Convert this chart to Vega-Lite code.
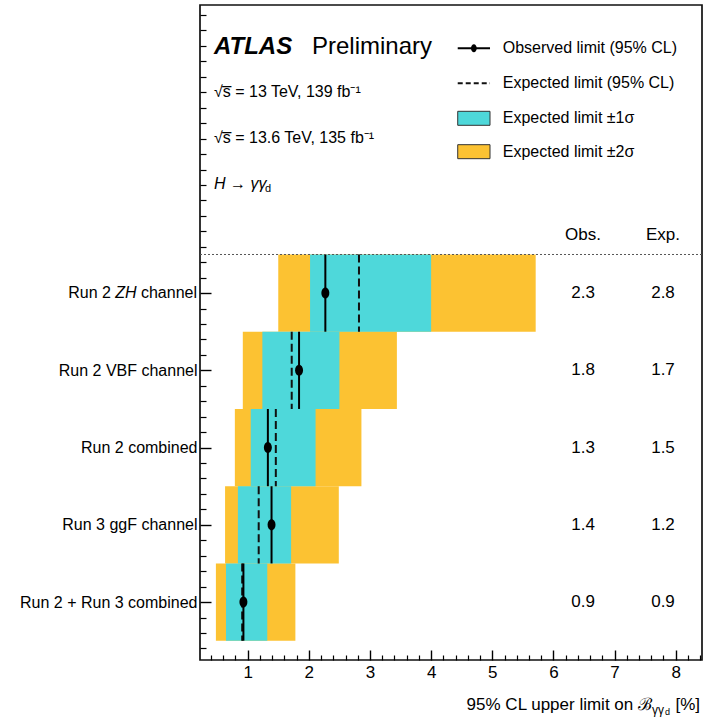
{
  "$schema": "https://vega.github.io/schema/vega-lite/v6.json",
  "width": 502,
  "height": 655,
  "autosize": "none",
  "padding": {"left": 200, "top": 5, "right": 3, "bottom": 68},
  "config": {
    "font": "Liberation Sans",
    "view": {"stroke": "#111", "strokeWidth": 1.7},
    "axis": {"domain": false, "grid": false, "labelColor": "#000", "tickColor": "#000", "labelFont": "Liberation Sans", "labelFontSize": 17, "labelLimit": 400},
    "text": {"font": "Liberation Sans", "fontSize": 16, "color": "#000"}
  },
  "resolve": {"axis": {"x": "independent", "y": "independent"}},
  "data": {"values": [
    {"channel": "Run 2 ZH channel", "pos": 5, "obs": 2.27, "exp": 2.82, "lo1": 2.02, "hi1": 4.00, "lo2": 1.50, "hi2": 5.71},
    {"channel": "Run 2 VBF channel", "pos": 4, "obs": 1.84, "exp": 1.72, "lo1": 1.24, "hi1": 2.50, "lo2": 0.92, "hi2": 3.44},
    {"channel": "Run 2 combined", "pos": 3, "obs": 1.33, "exp": 1.46, "lo1": 1.05, "hi1": 2.11, "lo2": 0.79, "hi2": 2.86},
    {"channel": "Run 3 ggF channel", "pos": 2, "obs": 1.39, "exp": 1.18, "lo1": 0.84, "hi1": 1.71, "lo2": 0.63, "hi2": 2.49},
    {"channel": "Run 2 + Run 3 combined", "pos": 1, "obs": 0.93, "exp": 0.91, "lo1": 0.645, "hi1": 1.32, "lo2": 0.48, "hi2": 1.78}
  ]},
  "layer": [
    {
      "mark": {"type": "rect", "color": "#FCC232", "yOffset": -38.6, "y2Offset": 38.6},
      "encoding": {
        "x": {"field": "lo2", "type": "quantitative", "scale": {"domain": [0.22, 8.43], "nice": false, "zero": false},
              "axis": {"orient": "bottom", "values": [1, 2, 3, 4, 5, 6, 7, 8], "tickSize": -10, "tickWidth": 1.4, "labelPadding": 14, "title": null}},
        "x2": {"field": "hi2"},
        "y": {"field": "pos", "type": "quantitative", "scale": {"domain": [0.25, 8.73], "nice": false, "zero": false},
              "axis": {"orient": "left", "values": [1, 2, 3, 4, 5], "tickSize": -11, "tickWidth": 1.4, "labelPadding": 14, "labelFontSize": 16, "title": null,
                       "labelExpr": "datum.value == 5 ? '' : datum.value == 4 ? 'Run 2 VBF channel' : datum.value == 3 ? 'Run 2 combined' : datum.value == 2 ? 'Run 3 ggF channel' : 'Run 2 + Run 3 combined'"}},
        "y2": {"field": "pos"}
      }
    },
    {
      "mark": {"type": "rect", "color": "#4ED8DA", "yOffset": -38.6, "y2Offset": 38.6},
      "encoding": {
        "x": {"field": "lo1", "type": "quantitative",
              "axis": {"orient": "bottom", "values": [0.4, 0.6, 0.8, 1.2, 1.4, 1.6, 1.8, 2.2, 2.4, 2.6, 2.8, 3.2, 3.4, 3.6, 3.8, 4.2, 4.4, 4.6, 4.8, 5.2, 5.4, 5.6, 5.8, 6.2, 6.4, 6.6, 6.8, 7.2, 7.4, 7.6, 7.8, 8.2, 8.4], "tickSize": -5, "tickWidth": 1.2, "labels": false, "title": null}},
        "x2": {"field": "hi1"},
        "y": {"field": "pos", "type": "quantitative",
              "axis": {"orient": "left", "values": [0.4, 0.6, 0.8, 1.2, 1.4, 1.6, 1.8, 2.2, 2.4, 2.6, 2.8, 3.2, 3.4, 3.6, 3.8, 4.2, 4.4, 4.6, 4.8, 5.2, 5.4, 5.6, 5.8, 6, 6.2, 6.4, 6.6, 6.8, 7, 7.2, 7.4, 7.6, 7.8, 8, 8.2, 8.4, 8.6], "tickSize": -6, "tickWidth": 1.2, "labels": false, "title": null}},
        "y2": {"field": "pos"}
      }
    },
    {
      "mark": {"type": "rule", "color": "#111", "strokeWidth": 2, "strokeDash": [8, 4], "yOffset": -38.6, "y2Offset": 38.6},
      "encoding": {
        "x": {"field": "exp", "type": "quantitative", "axis": null},
        "y": {"field": "pos", "type": "quantitative", "axis": null},
        "y2": {"field": "pos"}
      }
    },
    {
      "mark": {"type": "rule", "color": "#000", "strokeWidth": 2, "yOffset": -38.6, "y2Offset": 38.6},
      "encoding": {
        "x": {"field": "obs", "type": "quantitative", "axis": null},
        "y": {"field": "pos", "type": "quantitative", "axis": null},
        "y2": {"field": "pos"}
      }
    },
    {
      "mark": {"type": "point", "filled": true, "color": "#000", "opacity": 1, "size": 121, "shape": "M0,-1A0.72,1 0 1,1 0,1A0.72,1 0 1,1 0,-1Z"},
      "encoding": {
        "x": {"field": "obs", "type": "quantitative", "axis": null},
        "y": {"field": "pos", "type": "quantitative", "axis": null}
      }
    },
    {
      "mark": {"type": "text", "align": "center", "baseline": "middle", "fontSize": 17},
      "encoding": {
        "x": {"datum": 6.484, "axis": null},
        "y": {"field": "pos", "type": "quantitative", "axis": null},
        "text": {"field": "obs", "type": "quantitative", "format": ".1f"}
      }
    },
    {
      "mark": {"type": "text", "align": "center", "baseline": "middle", "fontSize": 17},
      "encoding": {
        "x": {"datum": 7.792, "axis": null},
        "y": {"field": "pos", "type": "quantitative", "axis": null},
        "text": {"field": "exp", "type": "quantitative", "format": ".1f"}
      }
    },
    {
      "data": {"values": [{}]},
      "mark": {"type": "text", "align": "right", "baseline": "middle", "text": "channel", "dx": -3},
      "encoding": {"x": {"datum": 0.22, "axis": null}, "y": {"datum": 5, "axis": null}}
    },
    {
      "data": {"values": [{}]},
      "mark": {"type": "text", "align": "right", "baseline": "middle", "text": "ZH", "fontStyle": "italic", "dx": -63.5},
      "encoding": {"x": {"datum": 0.22, "axis": null}, "y": {"datum": 5, "axis": null}}
    },
    {
      "data": {"values": [{}]},
      "mark": {"type": "text", "align": "right", "baseline": "middle", "text": "Run 2", "dx": -89},
      "encoding": {"x": {"datum": 0.22, "axis": null}, "y": {"datum": 5, "axis": null}}
    },
    {
      "data": {"values": [{}]},
      "mark": {"type": "rule", "color": "#555", "strokeWidth": 1, "strokeDash": [2, 2]},
      "encoding": {"y": {"datum": 5.5, "axis": null}}
    },
    {
      "data": {"values": [{}]},
      "mark": {"type": "text", "align": "center", "baseline": "middle", "text": "Obs.", "fontSize": 17},
      "encoding": {"x": {"datum": 6.484, "axis": null}, "y": {"datum": 5.752, "axis": null}}
    },
    {
      "data": {"values": [{}]},
      "mark": {"type": "text", "align": "center", "baseline": "middle", "text": "Exp.", "fontSize": 17},
      "encoding": {"x": {"datum": 7.792, "axis": null}, "y": {"datum": 5.752, "axis": null}}
    },
    {
      "data": {"values": [{}]},
      "mark": {"type": "text", "align": "left", "baseline": "middle", "text": "ATLAS", "fontSize": 24, "fontWeight": "bold", "fontStyle": "italic"},
      "encoding": {"x": {"datum": 0.449, "axis": null}, "y": {"datum": 8.186, "axis": null}}
    },
    {
      "data": {"values": [{}]},
      "mark": {"type": "text", "align": "right", "baseline": "middle", "text": "Preliminary", "fontSize": 24},
      "encoding": {"x": {"datum": 4.014, "axis": null}, "y": {"datum": 8.186, "axis": null}}
    },
    {
      "data": {"values": [{}]},
      "mark": {"type": "text", "align": "left", "baseline": "middle", "text": "√s̅ = 13 TeV, 139 fb⁻¹"},
      "encoding": {"x": {"datum": 0.449, "axis": null}, "y": {"datum": 7.604, "axis": null}}
    },
    {
      "data": {"values": [{}]},
      "mark": {"type": "text", "align": "left", "baseline": "middle", "text": "√s̅ = 13.6 TeV, 135 fb⁻¹"},
      "encoding": {"x": {"datum": 0.449, "axis": null}, "y": {"datum": 7.008, "axis": null}}
    },
    {
      "data": {"values": [{}]},
      "mark": {"type": "text", "align": "left", "baseline": "middle", "text": "H → γγ", "fontStyle": "italic", "fontSize": 16},
      "encoding": {"x": {"datum": 0.449, "axis": null}, "y": {"datum": 6.419, "axis": null}}
    },
    {
      "data": {"values": [{}]},
      "mark": {"type": "text", "align": "left", "baseline": "middle", "text": "d", "fontSize": 11, "dy": 5},
      "encoding": {"x": {"datum": 1.285, "axis": null}, "y": {"datum": 6.419, "axis": null}}
    },
    {
      "data": {"values": [{}]},
      "mark": {"type": "rule", "color": "#000", "strokeWidth": 2},
      "encoding": {"x": {"datum": 4.435, "axis": null}, "x2": {"datum": 4.963}, "y": {"datum": 8.17, "axis": null}}
    },
    {
      "data": {"values": [{}]},
      "mark": {"type": "point", "filled": true, "color": "#000", "opacity": 1, "size": 64, "shape": "M0,-1A0.72,1 0 1,1 0,1A0.72,1 0 1,1 0,-1Z"},
      "encoding": {"x": {"datum": 4.699, "axis": null}, "y": {"datum": 8.17, "axis": null}}
    },
    {
      "data": {"values": [{}]},
      "mark": {"type": "rule", "color": "#111", "strokeWidth": 1.8, "strokeDash": [5, 3]},
      "encoding": {"x": {"datum": 4.435, "axis": null}, "x2": {"datum": 4.963}, "y": {"datum": 7.717, "axis": null}}
    },
    {
      "data": {"values": [{}]},
      "mark": {"type": "rect", "fill": "#4ED8DA", "stroke": "#333", "strokeWidth": 1, "yOffset": -7, "y2Offset": 7},
      "encoding": {"x": {"datum": 4.435, "axis": null}, "x2": {"datum": 4.963}, "y": {"datum": 7.263, "axis": null}, "y2": {"datum": 7.263}}
    },
    {
      "data": {"values": [{}]},
      "mark": {"type": "rect", "fill": "#FCC232", "stroke": "#333", "strokeWidth": 1, "yOffset": -7, "y2Offset": 7},
      "encoding": {"x": {"datum": 4.435, "axis": null}, "x2": {"datum": 4.963}, "y": {"datum": 6.831, "axis": null}, "y2": {"datum": 6.831}}
    },
    {
      "data": {"values": [{}]},
      "mark": {"type": "text", "align": "left", "baseline": "middle", "text": "Observed limit (95% CL)"},
      "encoding": {"x": {"datum": 5.171, "axis": null}, "y": {"datum": 8.17, "axis": null}}
    },
    {
      "data": {"values": [{}]},
      "mark": {"type": "text", "align": "left", "baseline": "middle", "text": "Expected limit (95% CL)"},
      "encoding": {"x": {"datum": 5.171, "axis": null}, "y": {"datum": 7.717, "axis": null}}
    },
    {
      "data": {"values": [{}]},
      "mark": {"type": "text", "align": "left", "baseline": "middle", "text": "Expected limit ±1σ"},
      "encoding": {"x": {"datum": 5.171, "axis": null}, "y": {"datum": 7.263, "axis": null}}
    },
    {
      "data": {"values": [{}]},
      "mark": {"type": "text", "align": "left", "baseline": "middle", "text": "Expected limit ±2σ"},
      "encoding": {"x": {"datum": 5.171, "axis": null}, "y": {"datum": 6.831, "axis": null}}
    },
    {
      "data": {"values": [{}]},
      "mark": {"type": "text", "align": "right", "baseline": "middle", "text": "95% CL upper limit on ℬ", "fontSize": 17, "dy": 45},
      "encoding": {"x": {"datum": 7.612, "axis": null}, "y": {"datum": 0.25, "axis": null}}
    },
    {
      "data": {"values": [{}]},
      "mark": {"type": "text", "align": "left", "baseline": "middle", "text": "γγ", "fontSize": 12, "dy": 50},
      "encoding": {"x": {"datum": 7.612, "axis": null}, "y": {"datum": 0.25, "axis": null}}
    },
    {
      "data": {"values": [{}]},
      "mark": {"type": "text", "align": "left", "baseline": "middle", "text": "d", "fontSize": 9, "dy": 52, "dx": 13},
      "encoding": {"x": {"datum": 7.612, "axis": null}, "y": {"datum": 0.25, "axis": null}}
    },
    {
      "data": {"values": [{}]},
      "mark": {"type": "text", "align": "right", "baseline": "middle", "text": "[%]", "fontSize": 17, "dy": 45},
      "encoding": {"x": {"datum": 8.398, "axis": null}, "y": {"datum": 0.25, "axis": null}}
    }
  ]
}
